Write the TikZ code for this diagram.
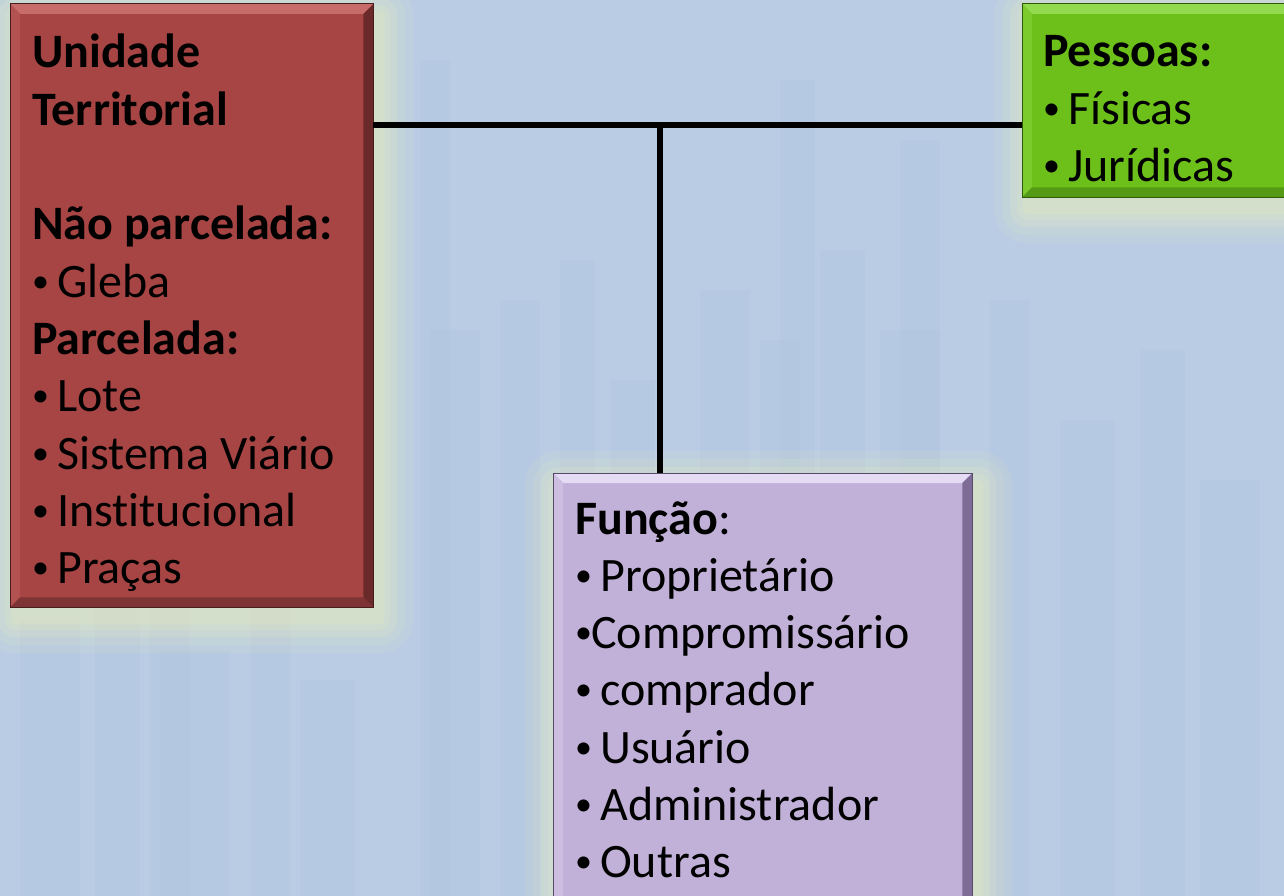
\documentclass[tikz,border=0pt]{standalone}
\usepackage{fontspec}
\setmainfont{Carlito}[Ligatures={NoCommon,NoRare,NoContextual}]
\usetikzlibrary{calc}
\definecolor{bgblue}{HTML}{B9CCE4}
\definecolor{bldg}{HTML}{A9BEDB}
\definecolor{glowc}{HTML}{EEF0B8}
\definecolor{redf}{HTML}{A74444}
\definecolor{redl}{HTML}{C86B6B}
\definecolor{redm}{HTML}{B45252}
\definecolor{redd}{HTML}{6A2A2A}
\definecolor{redb}{HTML}{7E3434}
\definecolor{grnf}{HTML}{6DC01A}
\definecolor{grnl}{HTML}{92DA4E}
\definecolor{grnm}{HTML}{7CCB2C}
\definecolor{grnd}{HTML}{45800E}
\definecolor{grnb}{HTML}{559A14}
\definecolor{purf}{HTML}{C1B0D7}
\definecolor{purl}{HTML}{E6DBF4}
\definecolor{purm}{HTML}{CDBEE1}
\definecolor{purd}{HTML}{7E6C96}
\definecolor{purb}{HTML}{9F8DB6}
\newcommand{\bul}{\makebox[25pt][l]{\raisebox{5pt}{\fontsize{34}{0}\selectfont •}}}
\newcommand{\bultight}{\makebox[16pt][l]{\raisebox{5pt}{\fontsize{34}{0}\selectfont •}}}
\tikzset{
  boxnode/.style={rectangle, inner sep=0pt, draw=none, anchor=north west},
  txt/.style={anchor=base west, inner sep=0pt, text=black,
    font=\fontsize{48}{57.3}\selectfont},
  conn/.style={line width=6pt, black},
  glowfill/.style={fill=glowc},
}
\newcommand{\glowbox}[1]{%
  \foreach \r/\o in {34/0.10,26/0.12,18/0.14,11/0.16,5/0.2}{%
    \fill[glowfill, opacity=\o, rounded corners=\r pt]
      ($(#1.north west)+(-\r+6,-\r+12)$) rectangle ($(#1.south east)+(\r+6,\r+12)$);
  }%
}
\newcommand{\bevelbox}[6]{% name, fill, top, left, right, bottom
  \fill[#2] (#1.north west) rectangle (#1.south east);
  \fill[#3] (#1.north west) -- (#1.north east) -- ($(#1.north east)+(-10,10)$) -- ($(#1.north west)+(10,10)$) -- cycle;
  \fill[#4] (#1.north west) -- ($(#1.north west)+(10,10)$) -- ($(#1.south west)+(10,-10)$) -- (#1.south west) -- cycle;
  \fill[#5] (#1.north east) -- (#1.south east) -- ($(#1.south east)+(-10,-10)$) -- ($(#1.north east)+(-10,10)$) -- cycle;
  \fill[#6] (#1.south west) -- (#1.south east) -- ($(#1.south east)+(-10,-10)$) -- ($(#1.south west)+(10,-10)$) -- cycle;
  \draw[#5!70!black, line width=1pt] (#1.north west) rectangle (#1.south east);
}
\begin{document}
\begin{tikzpicture}[x=1pt, y=-1pt]
  \clip (0,0) rectangle (1284,896);
  \fill[bgblue] (0,0) rectangle (1284,896);
  % faint skyline texture
  \foreach \bx/\bt/\bw in {20/620/60, 95/560/45, 160/650/70, 250/600/40, 300/680/55,
      430/330/50, 500/300/40, 560/260/35, 610/380/45, 700/290/50, 760/340/40,
      820/250/45, 880/330/60, 990/300/40, 1060/420/55, 1140/350/45, 1200/480/60,
      150/120/40, 420/60/30, 780/80/35, 900/140/40}{%
    \fill[bldg, opacity=0.18] (\bx,\bt) rectangle ++(\bw,900);
  }
  % boxes
  \node[boxnode, minimum width=363pt, minimum height=603pt] (ut) at (10,4) {};
  \node[boxnode, minimum width=272pt, minimum height=193pt] (ps) at (1022,4) {};
  \node[boxnode, minimum width=419pt, minimum height=440pt] (fn) at (553,473) {};
  \glowbox{ut}
  \glowbox{ps}
  \glowbox{fn}
  \bevelbox{ut}{redf}{redl}{redm}{redd}{redb}
  \bevelbox{ps}{grnf}{grnl}{grnm}{grnd}{grnb}
  \bevelbox{fn}{purf}{purl}{purm}{purd}{purb}
  % connectors
  \coordinate (j) at (660,125);
  \draw[conn] (j -| ut.east) -- (j -| ps.west);
  \draw[conn] (j) -- (j |- fn.north);
  % texts
  \node[txt] (uttext) at (32,68) {\vtop{%
    \hbox{\textbf{Unidade}}\hbox{\textbf{Territorial}}\hbox{}%
    \hbox{\textbf{Não parcelada:}}\hbox{\bul Gleba}\hbox{\textbf{Parcelada:}}%
    \hbox{\bul Lote}\hbox{\bul Sistema Viário}\hbox{\bul Institucional}\hbox{\bul Praças}}};
  \node[txt] (pstext) at (1043,67) {\vtop{%
    \hbox{\textbf{Pessoas:}}\hbox{\bul Físicas}\hbox{\bul Jurídicas}}};
  \node[txt] (fntext) at (575,534) {\vtop{%
    \hbox{\textbf{Função}:}\hbox{\bul Proprietário}\hbox{\bultight Compromissário}%
    \hbox{\bul comprador}\hbox{\bul Usuário}\hbox{\bul Administrador}\hbox{\bul Outras}}};
\end{tikzpicture}
\end{document}
